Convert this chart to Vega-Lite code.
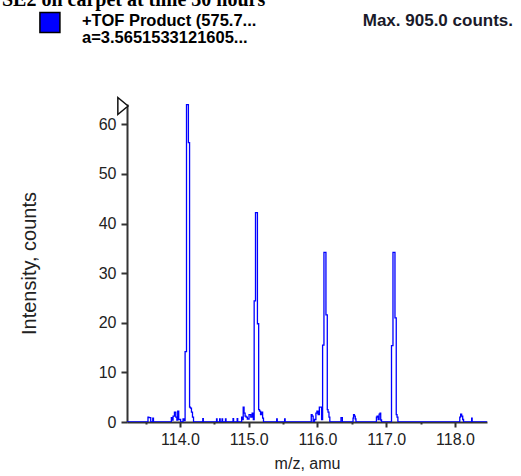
{
  "$schema": "https://vega.github.io/schema/vega-lite/v6.json",
  "width": 360,
  "height": 318,
  "autosize": {"type": "none"},
  "padding": {"left": 127, "top": 104, "right": 34, "bottom": 54},
  "background": "white",
  "config": {"view": {"stroke": null}, "font": "Liberation Sans"},
  "resolve": {"axis": {"x": "independent"}},
  "layer": [
    {
      "data": {"values": [
        {"mz": 113.23, "i": 0}, {"mz": 113.53, "i": 0}, {"mz": 113.54, "i": 1.0}, {"mz": 113.555, "i": 0.9}, {"mz": 113.57, "i": 0.9}, {"mz": 113.58, "i": 0},
        {"mz": 113.60, "i": 0}, {"mz": 113.61, "i": 0.8}, {"mz": 113.62, "i": 0},
        {"mz": 113.87, "i": 0}, {"mz": 113.88, "i": 0.9}, {"mz": 113.89, "i": 0.4}, {"mz": 113.91, "i": 1.2}, {"mz": 113.93, "i": 2.0}, {"mz": 113.95, "i": 1.0}, {"mz": 113.96, "i": 0.4}, {"mz": 113.975, "i": 2.2}, {"mz": 113.99, "i": 0.5},
        {"mz": 114.03, "i": 0}, {"mz": 114.06, "i": 0.6}, {"mz": 114.07, "i": 0.3},
        {"mz": 114.08, "i": 14.2}, {"mz": 114.111, "i": 64.0}, {"mz": 114.135, "i": 56.3}, {"mz": 114.145, "i": 3.0}, {"mz": 114.16, "i": 2.8}, {"mz": 114.175, "i": 2.0}, {"mz": 114.19, "i": 1.0}, {"mz": 114.205, "i": 0},
        {"mz": 114.33, "i": 0}, {"mz": 114.335, "i": 0.7}, {"mz": 114.345, "i": 0},
        {"mz": 114.53, "i": 0}, {"mz": 114.535, "i": 0.6}, {"mz": 114.545, "i": 0},
        {"mz": 114.575, "i": 0}, {"mz": 114.58, "i": 0.6}, {"mz": 114.59, "i": 0},
        {"mz": 114.61, "i": 0}, {"mz": 114.615, "i": 0.6}, {"mz": 114.625, "i": 0},
        {"mz": 114.66, "i": 0}, {"mz": 114.665, "i": 0.6}, {"mz": 114.675, "i": 0},
        {"mz": 114.77, "i": 0}, {"mz": 114.775, "i": 0.7}, {"mz": 114.785, "i": 0},
        {"mz": 114.83, "i": 0}, {"mz": 114.835, "i": 0.7}, {"mz": 114.845, "i": 0},
        {"mz": 114.895, "i": 0}, {"mz": 114.90, "i": 1.0}, {"mz": 114.915, "i": 0.5}, {"mz": 114.925, "i": 3.0}, {"mz": 114.94, "i": 1.8}, {"mz": 114.955, "i": 1.2}, {"mz": 114.97, "i": 1.0}, {"mz": 114.99, "i": 0.6}, {"mz": 115.02, "i": 1.5}, {"mz": 115.04, "i": 1.0}, {"mz": 115.06, "i": 1.8}, {"mz": 115.075, "i": 0.5},
        {"mz": 115.084, "i": 24.4}, {"mz": 115.114, "i": 42.2}, {"mz": 115.14, "i": 19.8}, {"mz": 115.15, "i": 2.5}, {"mz": 115.165, "i": 2.2}, {"mz": 115.18, "i": 1.5}, {"mz": 115.195, "i": 2.0}, {"mz": 115.21, "i": 0.8}, {"mz": 115.22, "i": 0},
        {"mz": 115.405, "i": 0}, {"mz": 115.41, "i": 0.6}, {"mz": 115.42, "i": 0},
        {"mz": 115.52, "i": 0}, {"mz": 115.525, "i": 0.6}, {"mz": 115.535, "i": 0},
        {"mz": 115.905, "i": 0}, {"mz": 115.915, "i": 1.5}, {"mz": 115.93, "i": 1.2}, {"mz": 115.945, "i": 0}, {"mz": 115.97, "i": 0.5}, {"mz": 115.985, "i": 1.8}, {"mz": 116.0, "i": 2.2}, {"mz": 116.02, "i": 1.5}, {"mz": 116.035, "i": 3.0}, {"mz": 116.05, "i": 3.0}, {"mz": 116.07, "i": 0.5},
        {"mz": 116.08, "i": 15.5}, {"mz": 116.109, "i": 34.2}, {"mz": 116.138, "i": 21.6}, {"mz": 116.148, "i": 2.5}, {"mz": 116.16, "i": 2.0}, {"mz": 116.175, "i": 1.0}, {"mz": 116.185, "i": 0},
        {"mz": 116.34, "i": 0}, {"mz": 116.345, "i": 0.9}, {"mz": 116.36, "i": 0.9}, {"mz": 116.365, "i": 0},
        {"mz": 116.515, "i": 0}, {"mz": 116.52, "i": 0.8}, {"mz": 116.53, "i": 1.5}, {"mz": 116.545, "i": 1.2}, {"mz": 116.555, "i": 0.6}, {"mz": 116.565, "i": 0},
        {"mz": 116.855, "i": 0}, {"mz": 116.86, "i": 1.0}, {"mz": 116.875, "i": 1.2}, {"mz": 116.89, "i": 0.5}, {"mz": 116.905, "i": 1.6}, {"mz": 116.915, "i": 1.8}, {"mz": 116.925, "i": 0.4}, {"mz": 116.94, "i": 0},
        {"mz": 117.07, "i": 0}, {"mz": 117.084, "i": 15.4}, {"mz": 117.113, "i": 34.2}, {"mz": 117.142, "i": 21.0}, {"mz": 117.15, "i": 1.5}, {"mz": 117.165, "i": 1.0}, {"mz": 117.175, "i": 0},
        {"mz": 118.065, "i": 0}, {"mz": 118.075, "i": 1.0}, {"mz": 118.09, "i": 1.6}, {"mz": 118.105, "i": 1.2}, {"mz": 118.12, "i": 0.5}, {"mz": 118.13, "i": 0},
        {"mz": 118.24, "i": 0}, {"mz": 118.245, "i": 0.8}, {"mz": 118.255, "i": 0},
        {"mz": 118.466, "i": 0}
      ]},
      "mark": {"type": "line", "color": "#0000FF", "strokeWidth": 1.3, "interpolate": "step", "clip": true},
      "encoding": {
        "x": {
          "field": "mz", "type": "quantitative",
          "scale": {"domain": [113.23, 118.466], "nice": false, "zero": false},
          "axis": {
            "orient": "bottom",
            "title": "m/z, amu",
            "values": [114, 115, 116, 117, 118],
            "format": ".1f",
            "tickSize": 5,
            "grid": false,
            "domainColor": "#333", "domainWidth": 2,
            "tickColor": "#333", "tickWidth": 2,
            "labelFont": "Liberation Sans", "labelFontSize": 16, "labelColor": "#222", "labelPadding": 4,
            "labelFlush": false, "labelOverlap": false,
            "titleFont": "Liberation Sans", "titleFontSize": 16, "titleFontWeight": "normal", "titleColor": "#222", "titlePadding": 8
          }
        },
        "y": {
          "field": "i", "type": "quantitative",
          "scale": {"domain": [0, 64.1], "nice": false},
          "axis": {
            "title": "Intensity, counts",
            "values": [0, 5, 10, 15, 20, 25, 30, 35, 40, 45, 50, 55, 60],
            "labelExpr": "datum.value % 10 === 0 ? datum.label : ''",
            "tickSize": {"condition": {"test": "datum.value % 10 !== 0", "value": 3}, "value": 6},
            "grid": false,
            "domainColor": "#333", "domainWidth": 2,
            "tickColor": "#333", "tickWidth": 2,
            "labelFont": "Liberation Sans", "labelFontSize": 16, "labelColor": "#222", "labelPadding": 5,
            "labelOverlap": false,
            "titleFont": "Liberation Sans", "titleFontSize": 20, "titleFontWeight": "normal", "titleColor": "#222", "titlePadding": 59
          }
        }
      }
    },
    {
      "data": {"values": [{}]},
      "mark": {"type": "point", "shape": "M -0.6 -1 L 0.6 0 L -0.6 1 Z", "size": 289, "fill": "white", "stroke": "#111", "strokeWidth": 1.5, "opacity": 1},
      "encoding": {
        "x": {"datum": 113.171, "type": "quantitative", "axis": {"orient": "bottom", "values": [113.5, 114.5, 115.5, 116.5, 117.5], "labels": false, "domain": false, "grid": false, "title": null, "tickSize": 2, "tickWidth": 2, "tickColor": "#333"}},
        "y": {"datum": 63.7, "type": "quantitative"}
      }
    },
    {
      "data": {"values": [{}]},
      "mark": {"type": "point", "shape": "square", "size": 400, "fill": "#0000FF", "stroke": "#000", "strokeWidth": 1.5, "opacity": 1},
      "encoding": {"x": {"datum": 112.109, "type": "quantitative", "axis": null}, "y": {"datum": 80.53, "type": "quantitative"}}
    },
    {
      "data": {"values": [{}]},
      "mark": {"type": "text", "text": [" +TOF Product (575.7...", "a=3.5651533121605..."], "lineHeight": 17, "align": "left", "baseline": "alphabetic", "font": "Liberation Sans", "fontSize": 16.5, "fontWeight": "bold", "color": "#000"},
      "encoding": {"x": {"datum": 112.575, "type": "quantitative", "axis": null}, "y": {"datum": 79.9, "type": "quantitative"}}
    },
    {
      "data": {"values": [{}]},
      "mark": {"type": "text", "text": "Max. 905.0 counts.", "align": "right", "baseline": "alphabetic", "font": "Liberation Sans", "fontSize": 17, "fontWeight": "bold", "color": "#1a1a2a"},
      "encoding": {"x": {"datum": 118.844, "type": "quantitative", "axis": null}, "y": {"datum": 79.9, "type": "quantitative"}}
    },
    {
      "data": {"values": [{}]},
      "mark": {"type": "text", "text": "SE2 on carpet at time 30 hours", "align": "left", "baseline": "alphabetic", "font": "Liberation Serif", "fontSize": 20, "fontWeight": "bold", "color": "#000"},
      "encoding": {"x": {"datum": 111.411, "type": "quantitative", "axis": null}, "y": {"datum": 83.8, "type": "quantitative"}}
    }
  ]
}
